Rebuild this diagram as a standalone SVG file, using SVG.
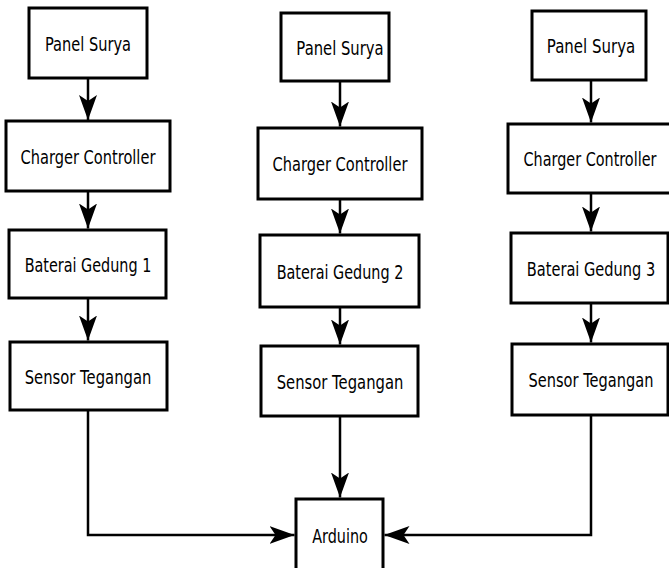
<svg xmlns="http://www.w3.org/2000/svg" width="669" height="568" viewBox="0 0 669 568">
<style>
.box{fill:#fff;stroke:#000;stroke-width:3}
.lbl{font-family:"DejaVu Sans","Liberation Sans",sans-serif;font-size:20px;fill:#000;text-anchor:middle}
.con{fill:none;stroke:#000;stroke-width:2.5}
</style>
<defs>
<marker id="arr" markerUnits="userSpaceOnUse" markerWidth="25" markerHeight="18" viewBox="0 0 25 18" refX="25" refY="9" orient="auto">
<path d="M0,0 L25,9 L0,18 L6,9 Z" fill="#000"/>
</marker>
</defs>
<rect width="669" height="568" fill="#fff"/>
<g id="connectors">
<path class="con" d="M88,78 V120" marker-end="url(#arr)"/>
<path class="con" d="M88,191 V228.5" marker-end="url(#arr)"/>
<path class="con" d="M88,298 V340.5" marker-end="url(#arr)"/>
<path class="con" d="M88,410 V535 H294.5" marker-end="url(#arr)"/>
<path class="con" d="M340,81 V126.5" marker-end="url(#arr)"/>
<path class="con" d="M340,199 V233.5" marker-end="url(#arr)"/>
<path class="con" d="M340,307 V344.5" marker-end="url(#arr)"/>
<path class="con" d="M340,416 V497.5" marker-end="url(#arr)"/>
<path class="con" d="M591,80 V122.5" marker-end="url(#arr)"/>
<path class="con" d="M591,193 V231.5" marker-end="url(#arr)"/>
<path class="con" d="M591,303 V342.5" marker-end="url(#arr)"/>
<path class="con" d="M591,415 V535 H384.5" marker-end="url(#arr)"/>
</g>
<g id="panel1"><rect class="box" x="29" y="8" width="118" height="70"/><text class="lbl" transform="translate(88,51) scale(0.73,1)">Panel Surya</text></g>
<g id="charger1"><rect class="box" x="6" y="121" width="164" height="70"/><text class="lbl" transform="translate(88,164) scale(0.73,1)">Charger Controller</text></g>
<g id="baterai1"><rect class="box" x="9" y="230" width="157" height="68"/><text class="lbl" transform="translate(88,272) scale(0.72,1)">Baterai Gedung 1</text></g>
<g id="sensor1"><rect class="box" x="10" y="342" width="157" height="68"/><text class="lbl" transform="translate(88,384) scale(0.74,1)">Sensor Tegangan</text></g>
<g id="panel2"><rect class="box" x="281" y="13" width="108" height="68"/><text class="lbl" transform="translate(340,55) scale(0.74,1)">Panel Surya</text></g>
<g id="charger2"><rect class="box" x="258" y="128" width="164" height="71"/><text class="lbl" transform="translate(340,171) scale(0.73,1)">Charger Controller</text></g>
<g id="baterai2"><rect class="box" x="260" y="235" width="159" height="72"/><text class="lbl" transform="translate(340,279) scale(0.72,1)">Baterai Gedung 2</text></g>
<g id="sensor2"><rect class="box" x="261" y="346" width="157" height="70"/><text class="lbl" transform="translate(340,389) scale(0.74,1)">Sensor Tegangan</text></g>
<g id="panel3"><rect class="box" x="532" y="11" width="114" height="69"/><text class="lbl" transform="translate(591,53) scale(0.75,1)">Panel Surya</text></g>
<g id="charger3"><rect class="box" x="508" y="124" width="175" height="69"/><text class="lbl" transform="translate(590,166) scale(0.72,1)">Charger Controller</text></g>
<g id="baterai3"><rect class="box" x="511" y="233" width="157" height="70"/><text class="lbl" transform="translate(591,276) scale(0.73,1)">Baterai Gedung 3</text></g>
<g id="sensor3"><rect class="box" x="512" y="344" width="156" height="71"/><text class="lbl" transform="translate(591,387) scale(0.73,1)">Sensor Tegangan</text></g>
<g id="arduino"><rect class="box" x="296" y="499" width="87" height="72"/><text class="lbl" transform="translate(340,543) scale(0.72,1)">Arduino</text></g>
</svg>
